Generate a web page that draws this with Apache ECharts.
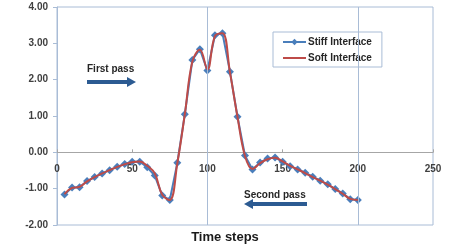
<!DOCTYPE html>
<html>
<head>
<meta charset="utf-8">
<script src="https://cdn.jsdelivr.net/npm/echarts@6/dist/echarts.min.js"></script>
<style>html,body{margin:0;padding:0;background:#fff}#c{width:450px;height:248px}</style>
</head>
<body>
<div id="c"></div>
<script>
var timeSteps = [5,10,15,20,25,30,35,40,45,50,55,60,65,70,75,80,85,90,95,100,105,110,115,120,125,130,135,140,145,150,155,160,165,170,175,180,185,190,195,200];
var stiffInterface = [-1.16,-0.97,-0.96,-0.79,-0.68,-0.58,-0.49,-0.40,-0.32,-0.26,-0.26,-0.41,-0.64,-1.19,-1.31,-0.29,1.05,2.54,2.84,2.25,3.22,3.28,2.22,0.98,-0.09,-0.47,-0.28,-0.17,-0.14,-0.26,-0.38,-0.47,-0.56,-0.67,-0.78,-0.88,-1.01,-1.13,-1.29,-1.31];
var softInterface = [-1.15,-0.98,-0.95,-0.80,-0.68,-0.58,-0.49,-0.40,-0.33,-0.27,-0.25,-0.37,-0.58,-1.17,-1.31,-0.30,1.05,2.50,2.82,2.28,3.20,3.28,2.20,0.98,-0.10,-0.46,-0.30,-0.19,-0.15,-0.25,-0.37,-0.47,-0.57,-0.68,-0.78,-0.89,-1.01,-1.14,-1.28,-1.31];
var yTicks = [-2,-1,0,1,2,3,4];
var xTicks = [0,50,100,150,200,250];
var guideLines = [100,200];
var seriesNames = ['Stiff Interface','Soft Interface'];

function pairs(xs, ys){ return xs.map(function(x,i){ return [x, ys[i]]; }); }

var chart = echarts.init(document.getElementById('c'), null, {renderer:'canvas'});
var F = 'Liberation Sans, Arial, sans-serif';
var borderC = '#a9bcd6';
var gridTop = 7, gridBottom = 23, H = 248;
var plotH = H - gridTop - gridBottom;
var zeroOffset = -plotH * (0 - yTicks[0]) / (yTicks[yTicks.length-1] - yTicks[0]);
chart.setOption({
  animation:false,
  grid:{left:57, right:17, top:gridTop, bottom:gridBottom, show:true, borderColor:borderC, borderWidth:1, containLabel:false},
  xAxis:[{
    type:'value', min:xTicks[0], max:xTicks[xTicks.length-1], interval:50,
    offset:zeroOffset, z:0,
    axisLine:{onZero:false, lineStyle:{color:'#a6a6a6', width:1}},
    axisTick:{show:true, inside:true, length:3, lineStyle:{color:'#a6a6a6'}},
    axisLabel:{color:'#404040', fontFamily:F, fontSize:10, fontWeight:'bold', margin:12},
    splitLine:{show:false}
  }],
  yAxis:{
    type:'value', min:yTicks[0], max:yTicks[yTicks.length-1], interval:1,
    axisLine:{show:true, lineStyle:{color:borderC}},
    axisTick:{show:true, length:4, lineStyle:{color:borderC}},
    axisLabel:{color:'#404040', fontFamily:F, fontSize:10, fontWeight:'bold', margin:9,
      formatter:function(v){return v.toFixed(2);}},
    splitLine:{show:false}
  },
  legend:{
    orient:'vertical', left:273, top:32, width:100,
    borderColor:borderC, borderWidth:1, padding:[5,10,4,9], itemGap:6,
    itemWidth:23, itemHeight:8,
    textStyle:{fontFamily:F, fontSize:10, fontWeight:'bold', color:'#262626', padding:[0,0,0,-3]},
    data:[{name:seriesNames[0]}, {name:seriesNames[1], icon:'path://M0,0L23,0L23,2L0,2Z'}]
  },
  series:[
    {
      name:seriesNames[0], type:'line', data:pairs(timeSteps, stiffInterface),
      symbol:'diamond', symbolSize:8, showSymbol:true,
      lineStyle:{color:'#4a7ebb', width:2},
      itemStyle:{color:'#4a7ebb'},
      z:2,
      markLine:{
        silent:true, symbol:['none','none'], label:{show:false},
        lineStyle:{color:borderC, type:'solid', width:1},
        data:guideLines.map(function(v){return {xAxis:v};})
      }
    },
    {
      name:seriesNames[1], type:'line', data:pairs(timeSteps, softInterface),
      symbol:'none', smooth:0.4,
      lineStyle:{color:'#be4b48', width:2},
      itemStyle:{color:'#be4b48'},
      z:3
    }
  ],
  graphic:[
    {type:'text', left:87, top:64, style:{text:'First pass', font:'bold 10px '+F, fill:'#262626'}},
    {type:'line', shape:{x1:87,y1:82,x2:128,y2:82}, style:{stroke:'#2c5b92', lineWidth:4}},
    {type:'polygon', shape:{points:[[127,77],[136,82],[127,87]]}, style:{fill:'#2c5b92'}},
    {type:'text', left:244, top:190, style:{text:'Second pass', font:'bold 10px '+F, fill:'#262626'}},
    {type:'line', shape:{x1:252,y1:204,x2:307,y2:204}, style:{stroke:'#2c5b92', lineWidth:4}},
    {type:'polygon', shape:{points:[[253,199],[244,204],[253,209]]}, style:{fill:'#2c5b92'}},
    {type:'text', left:'center', top:231, style:{x:0, text:'Time steps', font:'bold 13px '+F, fill:'#1a1a1a'}}
  ]
});
</script>
</body>
</html>
